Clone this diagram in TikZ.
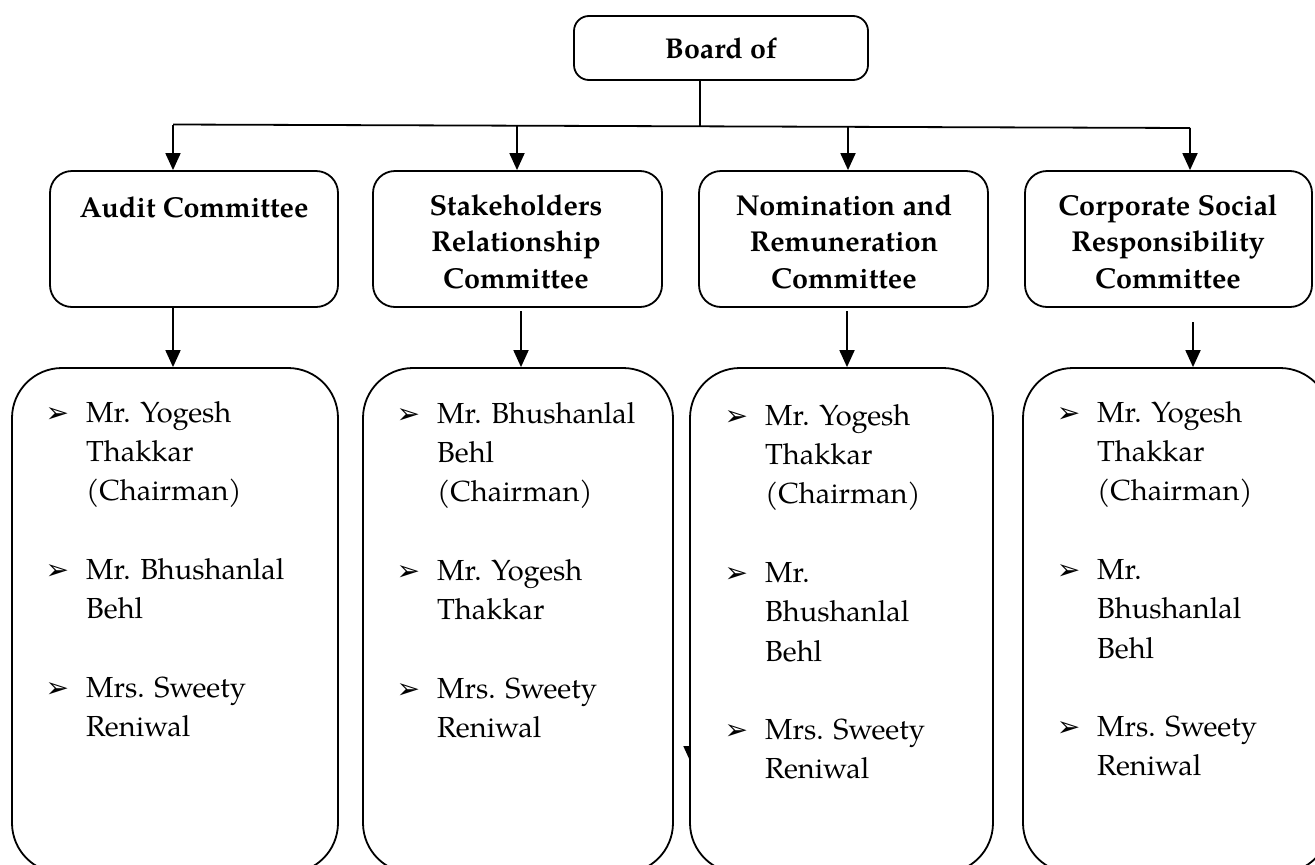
\documentclass[tikz,border=0pt]{standalone}
\usepackage{fontspec}
\setmainfont{TeX Gyre Pagella}
\newfontfamily\dingfont{DejaVu Sans}
\usetikzlibrary{arrows.meta}
\tikzset{
  ln/.style={line width=1.8pt},
  arr/.style={ln, -{Triangle[length=17pt,width=15pt]}},
  boardbox/.style={draw, ln, rounded corners=15pt, minimum width=294pt, minimum height=64pt, inner sep=0pt},
  combox/.style={draw, ln, rounded corners=22pt, minimum height=136pt, inner sep=0pt},
  membox/.style={draw, ln, fill=white, rounded corners=50pt, minimum height=505pt, inner sep=0pt},
  boardtext/.style={anchor=base, inner sep=0pt, font=\bfseries\fontsize{28.6}{36}\selectfont},
  comtext/.style={anchor=north, align=center, inner sep=0pt, font=\bfseries\fontsize{28.8}{36.5}\selectfont},
  memtext/.style={anchor=north west, align=left, inner sep=0pt, font=\fontsize{29}{39.3}\selectfont},
}
\newcommand\mybul{\llap{{\dingfont\fontsize{28}{28}\selectfont ➢}\hspace{17pt}}}
\begin{document}
\begin{tikzpicture}[x=1pt,y=-1pt]
\useasboundingbox (0,0) rectangle (1315,865);
\clip (0,0) rectangle (1315,865);

% board
\node[boardbox] (board) at (721,48) {};
\node[boardtext] (boardt) at (721,58) {Board of};

% bus
\coordinate (bj) at (700,126);
\coordinate (bus1) at (173,124.5);
\coordinate (bus2) at (517,125.5);
\coordinate (bus3) at (848,127);
\coordinate (bus4) at (1190,128);
\draw[ln] (bj |- board.south) -- (bj);
\draw[ln] (bus1) -- (bus4);

% committees
\node[combox, minimum width=288pt] (c1) at (194,239) {};
\node[combox, minimum width=289pt] (c2) at (517.5,239) {};
\node[combox, minimum width=289pt] (c3) at (843.5,239) {};
\node[combox, minimum width=287pt] (c4) at (1168.5,239) {};

\node[comtext] (c1t) at (194,191.5) {\strut Audit Committee};
\node[comtext] (c2t) at (516,189.5) {\strut Stakeholders\\Relationship\\Committee};
\node[comtext] (c3t) at (844,189.5) {\strut Nomination and\\Remuneration\\Committee};
\node[comtext] (c4t) at (1168,189.5) {\strut Corporate Social\\Responsibility\\Committee};

\draw[arr] (bus1) -- (bus1 |- c1.north);
\draw[arr] (bus2) -- (bus2 |- c2.north);
\draw[arr] (bus3) -- (bus3 |- c3.north);
\draw[arr] (bus4) -- (bus4 |- c4.north);

% stray arrow (partly hidden behind the third member box)
\coordinate (s0) at (691,730);
\coordinate (s1) at (691,763);
\draw[arr] (s0) -- (s1);

% member boxes
\node[membox, minimum width=326pt] (m1) at (175,620.5) {};
\node[membox, minimum width=310pt] (m2) at (518,620.5) {};
\node[membox, minimum width=303pt] (m3) at (841.5,620.5) {};
\node[membox, minimum width=307pt] (m4) at (1176.5,620.5) {};

\coordinate (a1) at (173,308);
\coordinate (a2) at (521,311);
\coordinate (a3) at (847,311);
\coordinate (a4) at (1193,322);
\draw[arr] (a1) -- (a1 |- m1.north);
\draw[arr] (a2) -- (a2 |- m2.north);
\draw[arr] (a3) -- (a3 |- m3.north);
\draw[arr] (a4) -- (a4 |- m4.north);

\node[memtext] (m1t) at (86,394.5) {\strut\mybul Mr. Yogesh\\Thakkar\\(Chairman)\\[39.3pt]\mybul Mr. Bhushanlal\\Behl\\[39.3pt]\mybul Mrs. Sweety\\Reniwal};
\node[memtext] (m2t) at (437,395.5) {\strut\mybul Mr. Bhushanlal\\Behl\\(Chairman)\\[39.3pt]\mybul Mr. Yogesh\\Thakkar\\[39.3pt]\mybul Mrs. Sweety\\Reniwal};
\node[memtext] (m3t) at (765,397.5) {\strut\mybul Mr. Yogesh\\Thakkar\\(Chairman)\\[39.3pt]\mybul Mr.\\Bhushanlal\\Behl\\[39.3pt]\mybul Mrs. Sweety\\Reniwal};
\node[memtext] (m4t) at (1097,394.5) {\strut\mybul Mr. Yogesh\\Thakkar\\(Chairman)\\[39.3pt]\mybul Mr.\\Bhushanlal\\Behl\\[39.3pt]\mybul Mrs. Sweety\\Reniwal};
\end{tikzpicture}
\end{document}
